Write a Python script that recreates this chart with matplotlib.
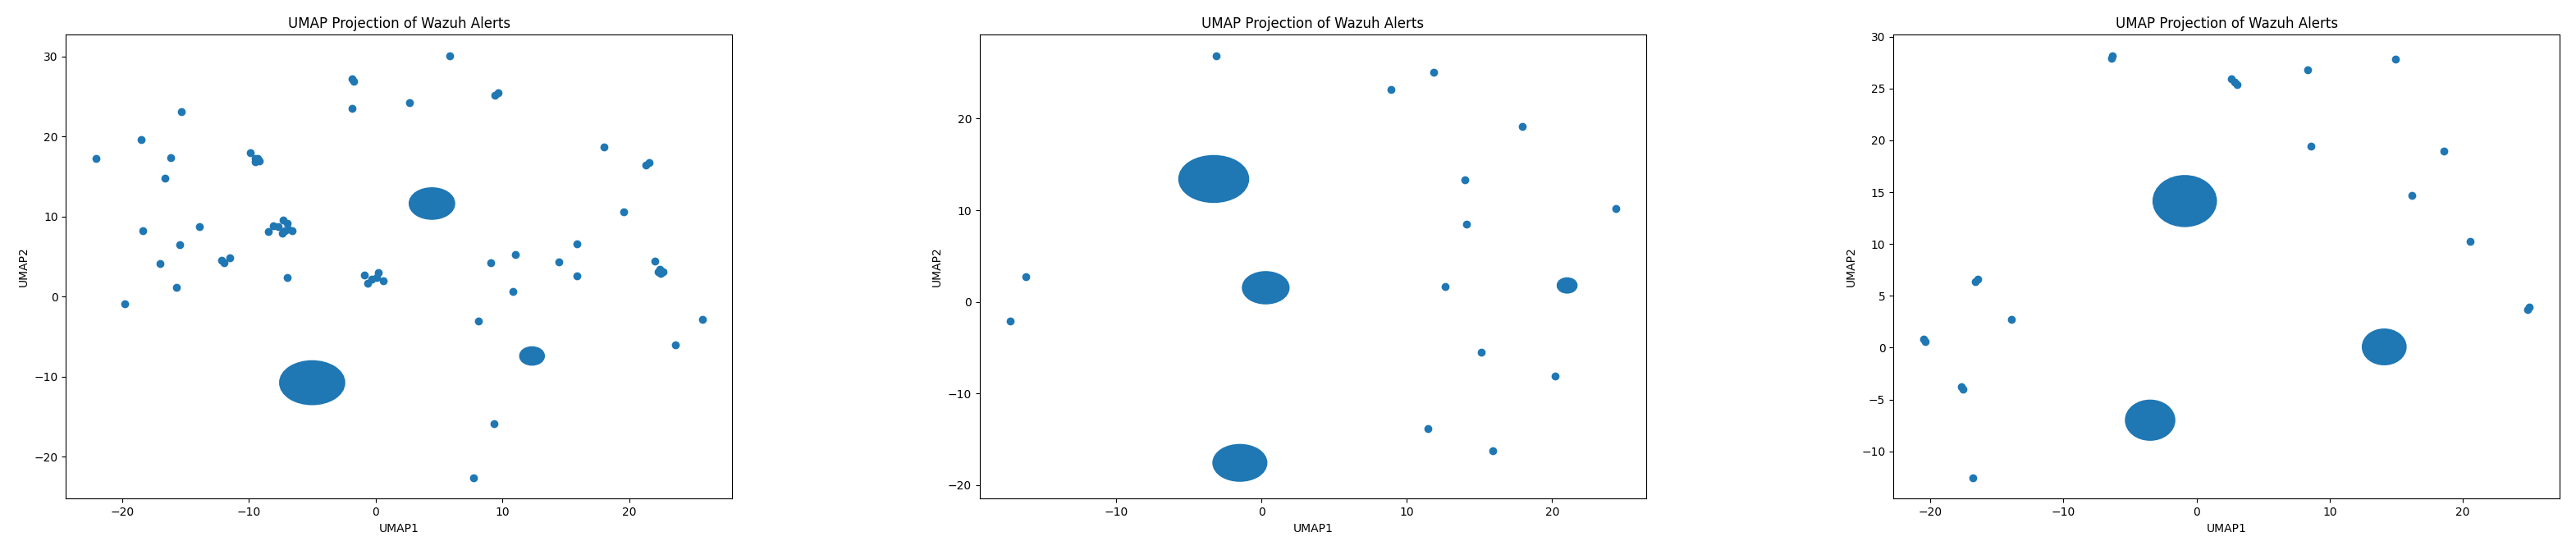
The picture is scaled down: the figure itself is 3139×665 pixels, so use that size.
import matplotlib
matplotlib.use("Agg")
import matplotlib.pyplot as plt
from matplotlib.patches import Ellipse

# small clusters / single alerts (UMAP1, UMAP2)
run1_x = [5.86, -1.85, -1.75, 9.42, 9.68, 2.69, -1.87, -15.33, -18.5, -22.06, -16.2, -16.67,
          -9.9, -9.5, -9.2, -9.5, -9.3, 18.0, 21.3, 21.6, 19.58, -13.9, -18.4,
          -8.5, -8.1, -7.7, -7.3, -7.2, -7.4, -6.9, -6.6, -7.0,
          -15.5, 15.9, 11.0, -12.15, -12.0, -11.5, -17.0, 9.08, 14.46, 22.0,
          22.4, 22.7, 22.5, 22.3, 15.9, -7.0,
          -0.9, -0.65, 0.05, 0.2, 0.6, -0.3,
          -15.76, 10.8, -19.84, 8.08, 25.75, 23.66, 9.34, 7.73]
run1_y = [30.1, 27.2, 26.9, 25.2, 25.5, 24.2, 23.5, 23.1, 19.6, 17.3, 17.4, 14.8,
          18.0, 17.3, 17.0, 16.9, 17.3, 18.7, 16.5, 16.8, 10.6, 8.76, 8.2,
          8.1, 8.9, 8.8, 9.6, 8.2, 7.9, 8.4, 8.2, 9.2,
          6.45, 6.6, 5.27, 4.6, 4.25, 4.85, 4.15, 4.27, 4.3, 4.45,
          3.4, 3.1, 2.9, 3.1, 2.57, 2.35,
          2.66, 1.7, 2.44, 3.0, 2.0, 2.2,
          1.13, 0.7, -0.9, -3.0, -2.8, -6.06, -15.87, -22.6]
# dense clusters: centre and diameter in data units
run1_blob_x = [4.43, -5.02, 12.33]
run1_blob_y = [11.64, -10.75, -7.41]
run1_blob_d = [3.0, 4.55, 1.36]

run2_x = [-3.15, 11.87, 8.91, 17.94, 13.99, 24.38, 14.1, -16.23, 12.63, -17.33,
          15.13, 20.21, 11.45, 15.93]
run2_y = [26.85, 25.03, 23.2, 19.1, 13.33, 10.14, 8.47, 2.73, 1.71, -2.09,
          -5.5, -8.09, -13.82, -16.22]
run2_blob_x = [-3.3, 0.28, 21.03, -1.5]
run2_blob_y = [13.41, 1.54, 1.79, -17.57]
run2_blob_d = [4.3, 2.7, 0.85, 3.2]

run3_x = [-6.4, -6.3, 14.96, 8.31, 2.6, 2.85, 3.05, 8.6, 18.55, 16.16, 20.54,
          -16.6, -16.45, 24.85, 25.0, -13.88, -20.5, -20.4, -17.65, -17.55, -16.82]
run3_y = [27.95, 28.15, 27.8, 26.8, 25.9, 25.65, 25.4, 19.4, 18.97, 14.67, 10.28,
          6.4, 6.6, 3.7, 3.95, 2.72, 0.8, 0.55, -3.75, -4.0, -12.53]
run3_blob_x = [-0.89, 14.09, -3.49]
run3_blob_y = [14.14, 0.07, -7.0]
run3_blob_d = [4.2, 2.73, 3.15]

runs = [
    (run1_x, run1_y, run1_blob_x, run1_blob_y, run1_blob_d),
    (run2_x, run2_y, run2_blob_x, run2_blob_y, run2_blob_d),
    (run3_x, run3_y, run3_blob_x, run3_blob_y, run3_blob_d),
]

fig, axes = plt.subplots(1, 3, figsize=(31.39, 6.65), dpi=100)
fig.subplots_adjust(left=0.0256, right=0.9937, bottom=0.0868, top=0.9364, wspace=0.371)

for ax, (px, py, bx, by, bd) in zip(axes, runs):
    color = "C0"
    for x, y, d in zip(bx, by, bd):
        ax.add_patch(Ellipse((x, y), d, d, facecolor=color, edgecolor=color, linewidth=7.5))
    ax.scatter(px + bx, py + by, color=color)
    ax.set_title("UMAP Projection of Wazuh Alerts")
    ax.set_xlabel("UMAP1")
    ax.set_ylabel("UMAP2")

fig.savefig("out.png", dpi=100)
